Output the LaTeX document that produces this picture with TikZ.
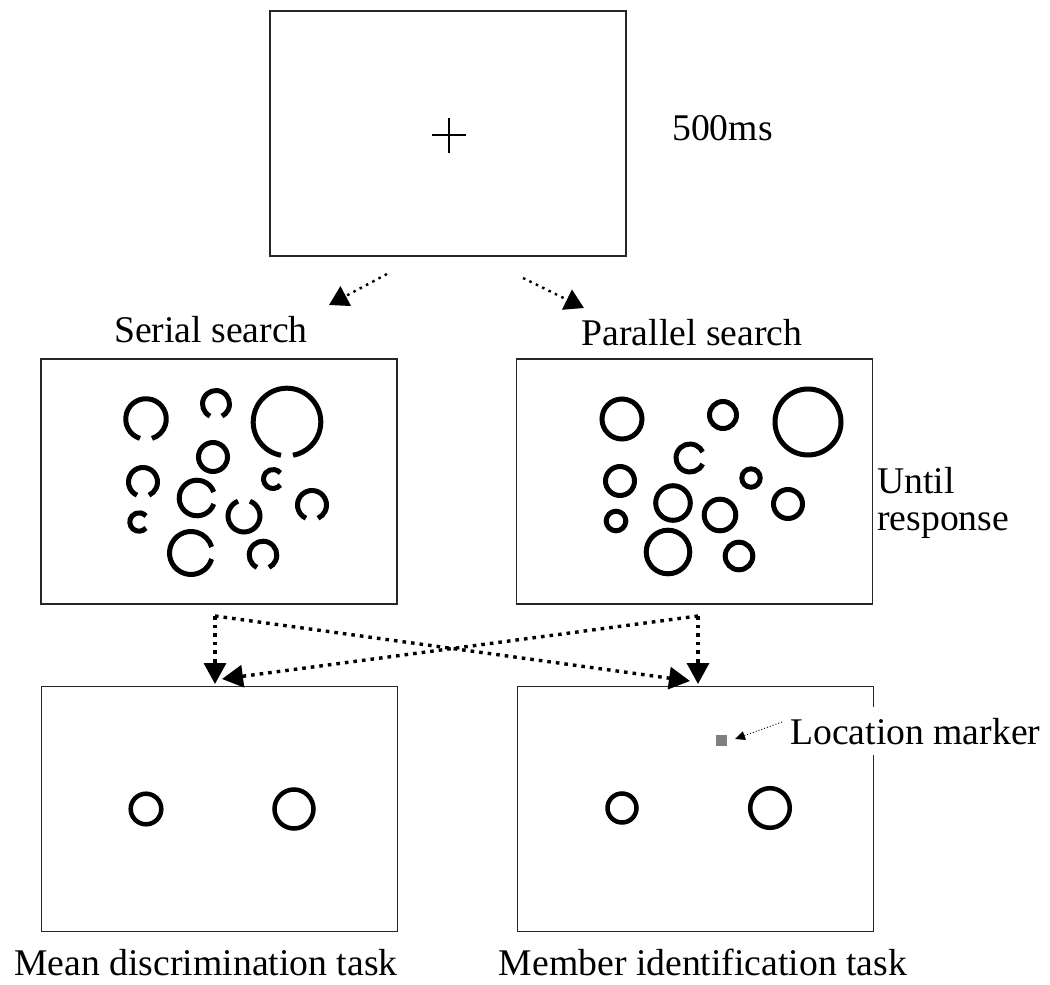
\documentclass[tikz,border=0pt]{standalone}
\usepackage{fontspec}
\setmainfont{Liberation Serif}
\usetikzlibrary{arrows.meta}
\newcommand\gapcirc[4]{%
  \pgfmathsetmacro\hg{asin(6/#3)}%
  \pgfmathsetmacro\sa{#4+\hg}%
  \pgfmathsetmacro\ea{#4+360-\hg}%
  \draw[stim] (#1,#2) ++(\sa:#3) arc[start angle=\sa, end angle=\ea, radius=#3];}
\newcommand\fullcirc[3]{\draw[stim] (#1,#2) circle[radius=#3];}
\begin{document}
\begin{tikzpicture}[x=1pt,y=-1pt,
  screen/.style={draw=black!85, line width=1.6pt, minimum width=356pt, minimum height=245pt, inner sep=0pt},
  lbl/.style={font=\fontsize{37.7}{37}\selectfont, inner sep=0pt},
  stim/.style={line width=5pt},
  flow/.style={line width=3.4pt, dash pattern=on 3.6pt off 5pt, -{Triangle[length=21pt,width=22pt]}},
  topflow/.style={line width=2.4pt, dash pattern=on 2.6pt off 4.5pt, -{Triangle[length=19pt,width=22pt]}},
  locflow/.style={line width=0.9pt, dash pattern=on 1pt off 2pt, -{Triangle[length=10pt,width=9pt]}}]
\useasboundingbox (0,0) rectangle (1050,985);
% fixation screen
\node[screen] (fix) at (448,133.5) {};
\draw[line width=1.5pt] (432,135) -- (466,135) (449,118) -- (449,153);
\node[lbl, anchor=base west] (t500) at (672,140) {500ms};
% labels
\node[lbl, anchor=base] (lser) at (211,342) {Serial search};
\node[lbl, anchor=base] (lpar) at (692,345) {Parallel search};
% search screens
\node[screen] (ser) at (219,481.5) {};
\node[screen] (par) at (694.5,481.5) {};
\node[lbl, anchor=north west, align=left] (until) at (877,467) {Until\\response};
% serial search items
\gapcirc{146}{419}{20.3}{90}
\gapcirc{216}{404}{13.5}{90}
\gapcirc{287}{422}{33.8}{90}
\fullcirc{213}{457}{14.5}
\gapcirc{143}{482}{14.5}{90}
\gapcirc{273}{479}{9.5}{0}
\gapcirc{197}{498}{17.8}{0}
\gapcirc{244}{516}{16}{270}
\gapcirc{312}{505}{14.5}{90}
\gapcirc{139}{522}{9.2}{0}
\gapcirc{191}{553}{21.5}{0}
\gapcirc{263}{555}{13.8}{90}
% parallel search items
\fullcirc{622}{419}{20}
\fullcirc{723}{415}{13.5}
\fullcirc{808}{422}{33}
\gapcirc{690}{458}{14}{0}
\fullcirc{620}{481}{14.5}
\fullcirc{751}{478}{9.2}
\fullcirc{673}{503}{17.3}
\fullcirc{720}{515}{15.8}
\fullcirc{788}{504}{14.5}
\fullcirc{616}{521}{9.8}
\fullcirc{668}{552}{21.8}
\fullcirc{739}{556}{13.8}
% task screens
\node[screen] (mean) at (219.5,809) {};
\node[screen] (memb) at (695.5,809) {};
\draw[stim, line width=4.5pt] (146,809) circle[radius=15.3];
\draw[stim, line width=4.5pt] (294,809) circle[radius=19.5];
\draw[stim, line width=4.5pt] (622,808) circle[radius=14.5];
\draw[stim, line width=4.5pt] (770,808) circle[radius=19.8];
\node[lbl, anchor=base] (lmean) at (206,975) {Mean discrimination task};
\node[lbl, anchor=base] (lmemb) at (703,975) {Member identification task};
% location marker
\node[fill=black!50, minimum size=11pt, inner sep=0pt] (marker) at (721.5,740.5) {};
\node[lbl, anchor=base west, fill=white, inner ysep=11pt, inner xsep=2pt] (lloc) at (788,744) {Location marker};
% connectors
\coordinate (fixL) at (387,274);
\coordinate (fixR) at (523,278);
\coordinate (serIn) at (329,305);
\coordinate (parIn) at (584,308);
\draw[topflow] (fixL) -- (serIn);
\draw[topflow] (fixR) -- (parIn);
\coordinate (sOut) at (215,616);
\coordinate (pOut) at (698,616);
\coordinate (meanIn) at (215,684);
\coordinate (membIn) at (698,684);
\coordinate (meanX) at (222,679);
\coordinate (membX) at (690,681);
\draw[flow] (sOut) -- (meanIn);
\draw[flow] (sOut) -- (membX);
\draw[flow] (pOut) -- (membIn);
\draw[flow] (pOut) -- (meanX);
\coordinate (locS) at (782,722);
\coordinate (locE) at (735,739);
\draw[locflow] (locS) -- (locE);
\end{tikzpicture}
\end{document}
